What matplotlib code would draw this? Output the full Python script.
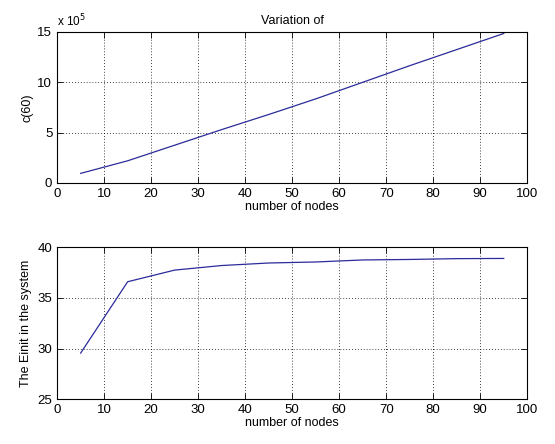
import matplotlib
matplotlib.use("Agg")
import matplotlib.pyplot as plt

plt.rcParams['font.family'] = ['Liberation Sans', 'DejaVu Sans']

nodes = [5, 15, 25, 35, 45, 55, 65, 75, 85, 95]
c60 = [0.95, 2.2, 3.75, 5.3, 6.8, 8.35, 10.0, 11.65, 13.25, 14.85]  # x 1e5
einit = [29.55, 36.6, 37.75, 38.2, 38.45, 38.55, 38.75, 38.8, 38.88, 38.9]

xticks = [0, 10, 20, 30, 40, 50, 60, 70, 80, 90, 100]
yticks_top = [0, 5, 10, 15]
yticks_bot = [25, 30, 35, 40]

line_color = '#2b2b9a'
fs = 9.5

fig = plt.figure(figsize=(5.55, 4.44), dpi=100)
ax1 = fig.add_axes([0.103, 0.588, 0.847, 0.340])
ax2 = fig.add_axes([0.103, 0.101, 0.847, 0.342])

for ax in (ax1, ax2):
    ax.set_xlim(0, 100)
    ax.set_xticks(xticks)
    ax.grid(True, color='black', linestyle=(0, (1, 2.5)), linewidth=0.6)
    ax.tick_params(direction='in', labelsize=fs, length=4, top=True, right=True, width=0.6)
    for s in ax.spines.values():
        s.set_linewidth(0.8)
    ax.set_xlabel('number of nodes', fontsize=fs - 0.5, labelpad=1)

ax1.plot(nodes, c60, color=line_color, linewidth=0.9)
ax1.set_ylim(0, 15)
ax1.set_yticks(yticks_top)
ax1.set_ylabel('c(60)', fontsize=fs - 0.5, labelpad=3)
ax1.set_title('Variation of', fontsize=fs - 0.5, pad=6)
ax1.text(0.0, 1.02, r'x 10$^5$', transform=ax1.transAxes, fontsize=fs - 1,
         ha='left', va='bottom')

ax2.plot(nodes, einit, color=line_color, linewidth=0.9)
ax2.set_ylim(25, 40)
ax2.set_yticks(yticks_bot)
ax2.set_ylabel('The Einit in the system', fontsize=fs - 0.5, labelpad=4)

fig.savefig('out.png', dpi=100)
